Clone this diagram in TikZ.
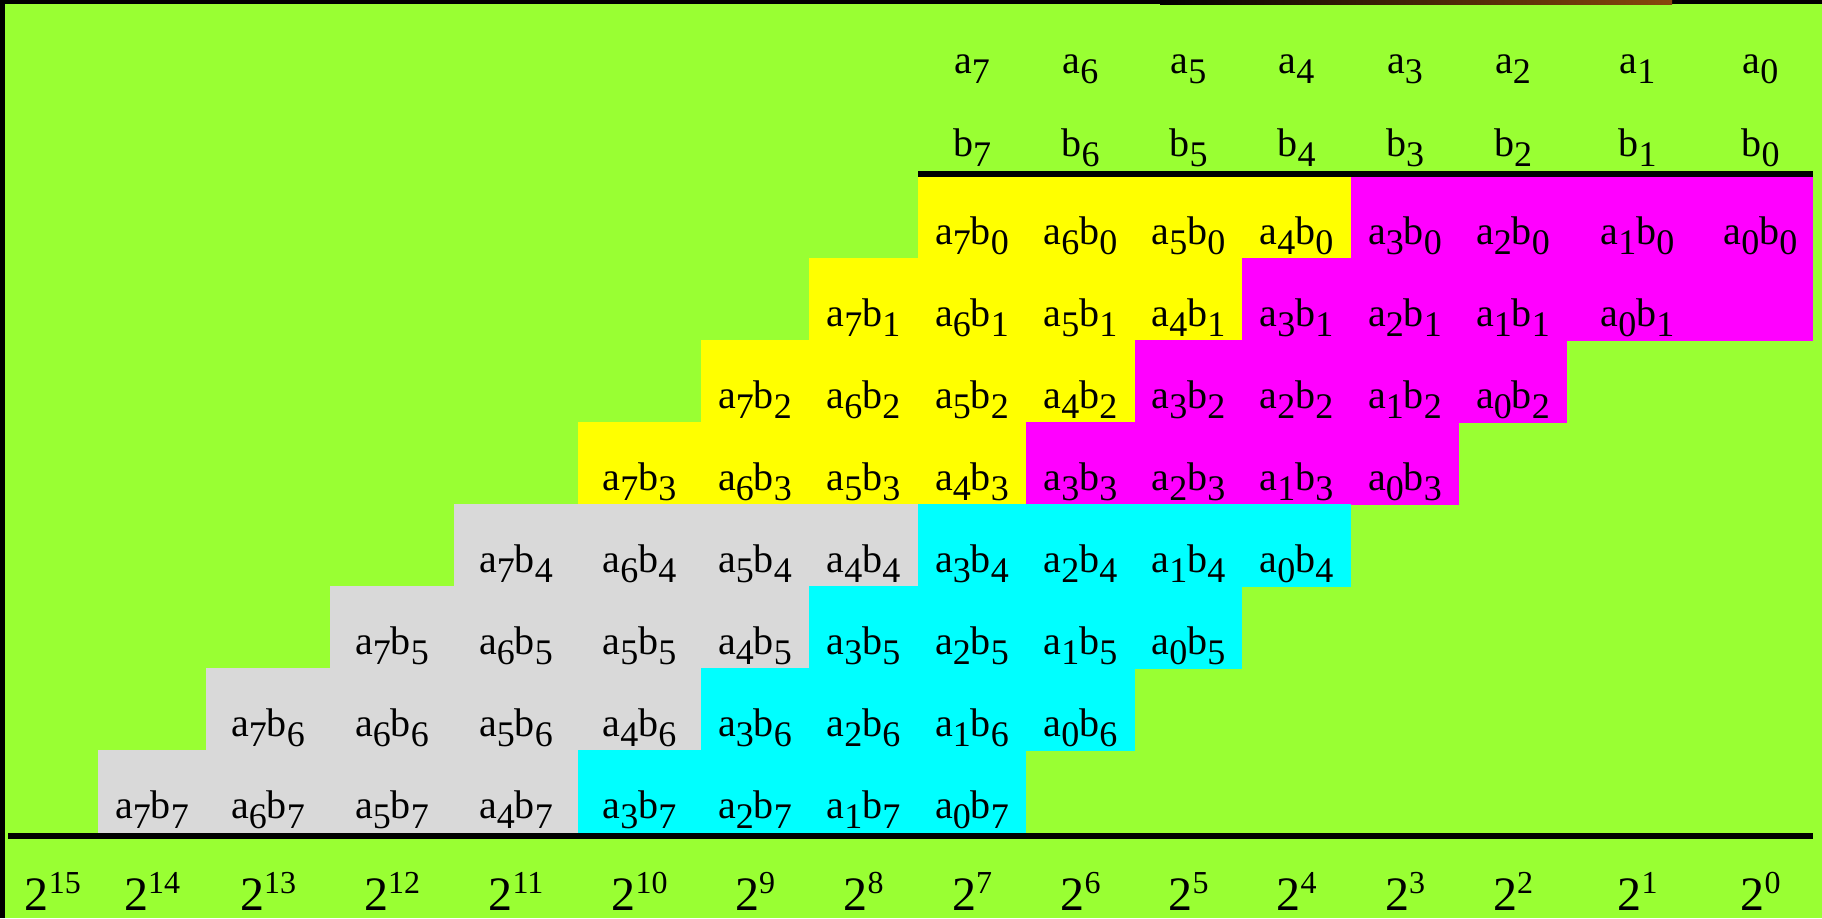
\documentclass[tikz,border=0pt]{standalone}
\usepackage{fontspec}
\setmainfont{Liberation Serif}
\usepackage{xcolor}
\usepackage{tikz}

\definecolor{slidegreen}{RGB}{153,255,51}
\definecolor{ppyellow}{RGB}{255,255,0}
\definecolor{ppmagenta}{RGB}{255,0,255}
\definecolor{ppcyan}{RGB}{0,255,255}
\definecolor{ppgrey}{RGB}{217,217,217}
\definecolor{edgebrown}{RGB}{135,72,12}

\newcommand{\lowdig}[1]{\raisebox{-5pt}{\fontsize{18pt}{18pt}\selectfont #1}}
\newcommand{\highdig}[1]{\raisebox{8.5pt}{\fontsize{16pt}{16pt}\selectfont #1}}

% column edges, index = power of two
\def\colL{{1708,1567,1459,1351,1242,1135,1026,918,809,701,578,454,330,206,98,8}}
\def\colR{{1813,1708,1567,1459,1351,1242,1135,1026,918,809,701,578,454,330,206,98}}

\begin{document}
\begin{tikzpicture}[x=0.5pt, y=-0.5pt,
  term/.style={anchor=base, inner sep=0pt, font=\fontsize{20pt}{20pt}\selectfont},
  weight/.style={anchor=base, inner sep=0pt, font=\fontsize{24pt}{24pt}\selectfont},
  rule/.style={draw, line width=3pt}]

  \useasboundingbox (0,0) rectangle (1822,918);
  \fill[slidegreen] (0,0) rectangle (1822,918);
  \fill[black] (0,0) rectangle (1822,4);
  \fill[black] (0,0) rectangle (5,918);
  \shade[left color=black, right color=edgebrown] (1160,0) rectangle (1672,4);

  % partial products
  \fill[ppmagenta] (1707,257.8) rectangle (1813.3,340.5);
  \foreach \brow in {0,...,7} {
    \foreach \abit in {0,...,7} {
      \pgfmathtruncatemacro\cidx{\abit+\brow}
      \pgfmathsetmacro\xl{\colL[\cidx]}
      \pgfmathsetmacro\xr{\colR[\cidx]}
      \pgfmathsetmacro\yt{176+82.1*\brow}
      \pgfmathsetmacro\yb{\yt+82.1}
      \ifnum\abit>3 \ifnum\brow>3 \def\cellcol{ppgrey}\else\def\cellcol{ppyellow}\fi
      \else \ifnum\brow>3 \def\cellcol{ppcyan}\else\def\cellcol{ppmagenta}\fi\fi
      \fill[\cellcol] (\xl-0.3,\yt-0.3) rectangle (\xr+0.3,\yb+0.3);
      \node [term] (p\abit\brow) at ({(\xl+\xr)/2},\yb-14) {a\lowdig{\abit}b\lowdig{\brow}};
    }
  }

  % operands
  \foreach \abit in {0,...,7} {
    \pgfmathsetmacro\xl{\colL[\abit]}
    \pgfmathsetmacro\xr{\colR[\abit]}
    \node [term] (a\abit) at ({(\xl+\xr)/2},73) {a\lowdig{\abit}};
    \node [term] (b\abit) at ({(\xl+\xr)/2},156) {b\lowdig{\abit}};
  }

  % weights
  \foreach \cidx in {0,...,15} {
    \pgfmathsetmacro\xl{\colL[\cidx]}
    \pgfmathsetmacro\xr{\colR[\cidx]}
    \node [weight] (w\cidx) at ({(\xl+\xr)/2},910) {2\highdig{\cidx}};
  }

  \coordinate (topruleL) at (918,174);
  \coordinate (topruleR) at (1813,174);
  \coordinate (botruleL) at (8,836);
  \coordinate (botruleR) at (1813,836);
  \path [rule] (topruleL) -- (topruleR);
  \path [rule] (botruleL) -- (botruleR);
\end{tikzpicture}
\end{document}
